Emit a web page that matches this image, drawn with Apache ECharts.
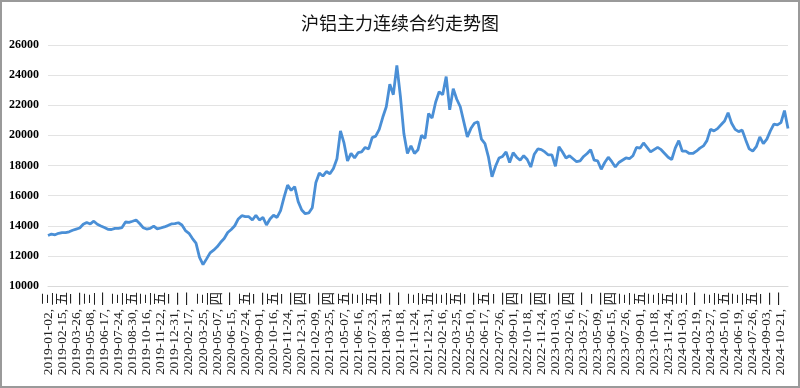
<!DOCTYPE html>
<html>
<head>
<meta charset="utf-8">
<script src="https://cdn.jsdelivr.net/npm/echarts@6/dist/echarts.min.js"></script>
<style>
html,body{margin:0;padding:0;background:#fff;}
#wrap{width:800px;height:388px;box-sizing:border-box;border:2px solid #9a9a9a;position:relative;overflow:hidden;}
#main{position:absolute;left:-2px;top:-2px;width:800px;height:388px;}
</style>
</head>
<body>
<div id="wrap"><div id="main"></div></div>
<script>
// Tick labels shown on the category axis (every 4th data point)
var tickLabels = [
"2019-01-02, 三","2019-02-15, 五","2019-03-26, 二","2019-05-08, 三","2019-06-17, 一","2019-07-24, 三","2019-08-30, 五","2019-10-16, 三","2019-11-22, 五","2019-12-31, 二",
"2020-02-17, 一","2020-03-25, 三","2020-05-07, 四","2020-06-15, 一","2020-07-24, 五","2020-09-01, 二","2020-10-16, 五","2020-11-24, 二","2020-12-31, 四",
"2021-02-09, 二","2021-03-25, 四","2021-05-07, 五","2021-06-16, 三","2021-07-23, 五","2021-08-31, 二","2021-10-18, 一","2021-11-24, 三","2021-12-31, 五",
"2022-02-16, 三","2022-03-25, 五","2022-05-10, 二","2022-06-17, 五","2022-07-26, 二","2022-09-01, 四","2022-10-18, 二","2022-11-24, 四",
"2023-01-03, 二","2023-02-16, 四","2023-03-27, 一","2023-05-09, 二","2023-06-15, 四","2023-07-26, 三","2023-09-01, 五","2023-10-18, 三","2023-11-24, 五",
"2024-01-03, 三","2024-02-19, 一","2024-03-27, 三","2024-05-10, 五","2024-06-19, 三","2024-07-26, 五","2024-09-03, 二","2024-10-21, 一"
];
// Closing prices (yuan/ton), sampled along the series
var prices = [
13350,13450,13400,13500,13550,13550,13600,13700,13780,13850,
14100,14220,14120,14300,14100,13980,13880,13760,13750,13830,
13820,13880,14250,14230,14300,14380,14150,13870,13780,13820,
13980,13790,13850,13920,14010,14120,14140,14200,14050,13680,
13500,13150,12850,11900,11420,11800,12200,12380,12600,12900,
13150,13550,13750,14000,14450,14670,14600,14600,14380,14700,
14380,14550,14050,14450,14700,14550,15000,15900,16700,16350,
16600,15600,15050,14800,14850,15200,16850,17500,17300,17600,
17450,17800,18450,20300,19500,18300,18800,18500,18850,18900,
19200,19100,19850,19950,20400,21200,21900,23400,22700,24650,
22600,20100,18800,19300,18800,19050,20000,19800,21450,21150,
22200,22900,22700,23900,21700,23100,22400,21900,20900,19900,
20450,20800,20900,19750,19450,18550,17250,17950,18500,18600,
18900,18200,18850,18550,18350,18650,18400,17900,18750,19100,
19050,18900,18700,18700,17950,19250,18900,18500,18650,18450,
18250,18300,18600,18800,19050,18350,18300,17750,18200,18550,
18250,17900,18200,18350,18500,18450,18650,19200,19150,19500,
19200,18900,19050,19200,19050,18800,18550,18400,19150,19650,
18950,18950,18800,18800,18950,19150,19300,19650,20400,20300,
20450,20700,20950,21500,20800,20400,20250,20350,19700,19100,
18950,19250,19900,19450,19750,20300,20750,20700,20850,21650,
20450
];
var STEP = 4;
var categories = prices.map(function(_, i){
  return (i % STEP === 0 && tickLabels[i / STEP]) ? tickLabels[i / STEP] : ('#' + i);
});

var chart = echarts.init(document.getElementById('main'), null, {renderer:'canvas'});
chart.setOption({
  animation:false,
  backgroundColor:'transparent',
  title:{
    text:'沪铝主力连续合约走势图',
    left:'center', top:9,
    textStyle:{fontFamily:'Noto Sans CJK SC', fontSize:18, fontWeight:'normal', color:'#111'}
  },
  grid:{left:48, right:12, top:45, bottom:102, containLabel:false, outerBoundsMode:'none'},
  xAxis:{
    type:'category',
    data:categories,
    boundaryGap:false,
    axisLine:{show:true, lineStyle:{color:'#d9d9d9', width:1}},
    axisTick:{show:false},
    splitLine:{show:false},
    axisLabel:{
      interval:STEP-1,
      rotate:90,
      margin:6,
      fontFamily:'Liberation Serif, Noto Sans CJK SC',
      fontSize:13.5,
      color:'#222',
      formatter:function(v){ return v.charAt(0)==='#' ? '' : v; }
    }
  },
  yAxis:{
    type:'value',
    min:10000, max:26000, interval:2000,
    axisLine:{show:false},
    axisTick:{show:false},
    splitLine:{lineStyle:{color:'#e3e3e3', width:1}},
    axisLabel:{margin:9, fontFamily:'Liberation Serif', fontSize:12, color:'#000', fontWeight:'bold',
      formatter:function(v){ return String(v); }}
  },
  series:[{
    type:'line',
    data:prices,
    symbol:'none',
    smooth:false,
    lineStyle:{color:'#4a8fd6', width:2.8},
    z:3
  }]
});
</script>
</body>
</html>
